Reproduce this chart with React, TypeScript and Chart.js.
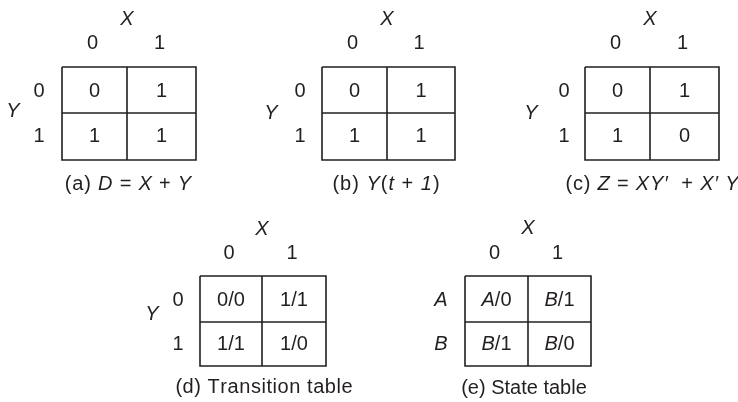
import React, { useEffect, useRef } from "react";
import { Chart, registerables } from "chart.js";

Chart.register(...registerables);

// ---------- data ----------
type Seg = [string, boolean]; // [text, italic]

const xAxisLabel: Seg[] = [["X", true]];
const yAxisLabel: Seg[] = [["Y", true]];
const colLabels: Seg[][] = [[["0", false]], [["1", false]]];
const rowLabelsBinary: Seg[][] = [[["0", false]], [["1", false]]];
const rowLabelsState: Seg[][] = [[["A", true]], [["B", true]]];

// cells in row-major order: (row0,col0), (row0,col1), (row1,col0), (row1,col1)
const cellsA: Seg[][] = [[["0", false]], [["1", false]], [["1", false]], [["1", false]]];
const cellsB: Seg[][] = [[["0", false]], [["1", false]], [["1", false]], [["1", false]]];
const cellsC: Seg[][] = [[["0", false]], [["1", false]], [["1", false]], [["0", false]]];
const cellsD: Seg[][] = [[["0/0", false]], [["1/1", false]], [["1/1", false]], [["1/0", false]]];
const cellsE: Seg[][] = [
  [["A", true], ["/0", false]],
  [["B", true], ["/1", false]],
  [["B", true], ["/1", false]],
  [["B", true], ["/0", false]],
];

const captionA: Seg[] = [["(a) ", false], ["D", true], [" = ", false], ["X", true], [" + ", false], ["Y", true]];
const captionB: Seg[] = [["(b) ", false], ["Y", true], ["(", false], ["t", true], [" + ", false], ["1", true], [")", false]];
const captionC: Seg[] = [["(c) ", false], ["Z", true], [" = ", false], ["XY\u2032", true], ["  + ", false], ["X\u2032 Y", true]];
const captionD: Seg[] = [["(d) Transition table", false]];
const captionE: Seg[] = [["(e) State table", false]];

// ---------- layout (positions only) ----------
type Box = {
  l: number; r: number; t: number; b: number; mx: number; my: number;
  xLabDy: number; colDy: number; rowDx: number; yLabDx: number; yLabDy: number;
  capX: number; capDy: number; capSpacing: number;
};
const boxes: Box[] = [
  { l: 62, r: 196, t: 67, b: 160, mx: 127, my: 113, xLabDy: -48, colDy: -24, rowDx: -23, yLabDx: -49, yLabDy: -2, capX: 128, capDy: 24, capSpacing: 0.8 },
  { l: 322, r: 455, t: 67, b: 160, mx: 387, my: 113, xLabDy: -48, colDy: -24, rowDx: -22, yLabDx: -51, yLabDy: 0, capX: 386, capDy: 24, capSpacing: 1.0 },
  { l: 585, r: 719, t: 67, b: 160, mx: 650, my: 113, xLabDy: -48, colDy: -24, rowDx: -21, yLabDx: -54, yLabDy: 0, capX: 652, capDy: 24, capSpacing: 0.8 },
  { l: 200, r: 326, t: 276, b: 366, mx: 262, my: 322, xLabDy: -47, colDy: -23, rowDx: -22, yLabDx: -48, yLabDy: -8, capX: 264, capDy: 21, capSpacing: 0.55 },
  { l: 465, r: 591, t: 276, b: 366, mx: 528, my: 322, xLabDy: -48, colDy: -23, rowDx: -24, yLabDx: 0, yLabDy: 0, capX: 524, capDy: 22, capSpacing: 0 },
];

const maps = [
  { cells: cellsA, rows: rowLabelsBinary, yLab: yAxisLabel, caption: captionA },
  { cells: cellsB, rows: rowLabelsBinary, yLab: yAxisLabel, caption: captionB },
  { cells: cellsC, rows: rowLabelsBinary, yLab: yAxisLabel, caption: captionC },
  { cells: cellsD, rows: rowLabelsBinary, yLab: yAxisLabel, caption: captionD },
  { cells: cellsE, rows: rowLabelsState, yLab: null as Seg[] | null, caption: captionE },
];

const FONT_SIZE = 20;
const FONT_FAMILY = "'Liberation Sans', Arial, Helvetica, sans-serif";
const TEXT_COLOR = "#231f20";
const LINE_COLOR = "#231f20";

function fontFor(italic: boolean) {
  return `${italic ? "italic " : ""}${FONT_SIZE}px ${FONT_FAMILY}`;
}

function drawRich(ctx: CanvasRenderingContext2D, segs: Seg[], cx: number, cy: number, spacing = 0) {
  // split into characters to apply optional extra spacing
  const chars: { ch: string; it: boolean; w: number }[] = [];
  segs.forEach(([t, it]) => {
    ctx.font = fontFor(it);
    if (spacing === 0) {
      chars.push({ ch: t, it, w: ctx.measureText(t).width });
    } else {
      for (const ch of Array.from(t)) chars.push({ ch, it, w: ctx.measureText(ch).width + spacing });
    }
  });
  let total = chars.reduce((s, c) => s + c.w, 0);
  if (spacing !== 0) total -= spacing;
  let x = cx - total / 2;
  ctx.textAlign = "left";
  ctx.textBaseline = "middle";
  ctx.fillStyle = TEXT_COLOR;
  chars.forEach((c) => {
    ctx.font = fontFor(c.it);
    ctx.fillText(c.ch, x, cy);
    x += c.w;
  });
}

const textPlugin = {
  id: "kmapText",
  afterDatasetsDraw(chart: any) {
    const ctx: CanvasRenderingContext2D = chart.ctx;
    const xs = chart.scales.x;
    const ys = chart.scales.y;
    const px = (v: number) => xs.getPixelForValue(v);
    const py = (v: number) => ys.getPixelForValue(v);
    ctx.save();
    maps.forEach((m, i) => {
      const bx = boxes[i];
      const colC = [(bx.l + bx.mx) / 2 - 2, (bx.mx + bx.r) / 2 - 2];
      const rowC = [(bx.t + bx.my) / 2 + 1, (bx.my + bx.b) / 2];
      const cellC = [(bx.l + bx.mx) / 2, (bx.mx + bx.r) / 2];
      drawRich(ctx, xAxisLabel, px(bx.mx), py(bx.t + bx.xLabDy));
      colLabels.forEach((c, j) => drawRich(ctx, c, px(colC[j]), py(bx.t + bx.colDy)));
      m.rows.forEach((r, j) => drawRich(ctx, r, px(bx.l + bx.rowDx), py(rowC[j])));
      if (m.yLab) drawRich(ctx, m.yLab, px(bx.l + bx.yLabDx), py(bx.my + bx.yLabDy));
      m.cells.forEach((c, k) => {
        const r = Math.floor(k / 2);
        const col = k % 2;
        drawRich(ctx, c, px(cellC[col]), py(rowC[r]));
      });
      drawRich(ctx, m.caption, px(bx.capX), py(bx.b + bx.capDy), bx.capSpacing);
    });
    ctx.restore();
  },
};

function buildDatasets() {
  const ds: any[] = [];
  boxes.forEach((bx) => {
    const common = {
      showLine: true,
      borderColor: LINE_COLOR,
      borderWidth: 1.6,
      pointRadius: 0,
      pointHoverRadius: 0,
      fill: false,
      tension: 0,
    };
    ds.push({
      ...common,
      data: [
        { x: bx.l, y: bx.t },
        { x: bx.r, y: bx.t },
        { x: bx.r, y: bx.b },
        { x: bx.l, y: bx.b },
        { x: bx.l, y: bx.t },
      ],
    });
    ds.push({ ...common, data: [{ x: bx.mx, y: bx.t }, { x: bx.mx, y: bx.b }] });
    ds.push({ ...common, data: [{ x: bx.l, y: bx.my }, { x: bx.r, y: bx.my }] });
  });
  return ds;
}

export default function App() {
  const ref = useRef<HTMLCanvasElement | null>(null);
  useEffect(() => {
    if (!ref.current) return;
    const chart = new Chart(ref.current, {
      type: "scatter",
      data: { datasets: buildDatasets() },
      options: {
        animation: false,
        responsive: false,
        maintainAspectRatio: false,
        devicePixelRatio: 1,
        layout: { padding: 0 },
        events: [],
        plugins: { legend: { display: false }, tooltip: { enabled: false }, title: { display: false } },
        scales: {
          x: { type: "linear", min: 0, max: 738, display: false },
          y: { type: "linear", min: 0, max: 402, reverse: true, display: false },
        },
      },
      plugins: [textPlugin],
    } as any);
    return () => chart.destroy();
  }, []);
  return (
    <div style={{ position: "absolute", left: 0, top: 0, width: 738, height: 402, background: "#fff" }}>
      <canvas ref={ref} width={738} height={402} style={{ width: 738, height: 402, display: "block" }} />
    </div>
  );
}
